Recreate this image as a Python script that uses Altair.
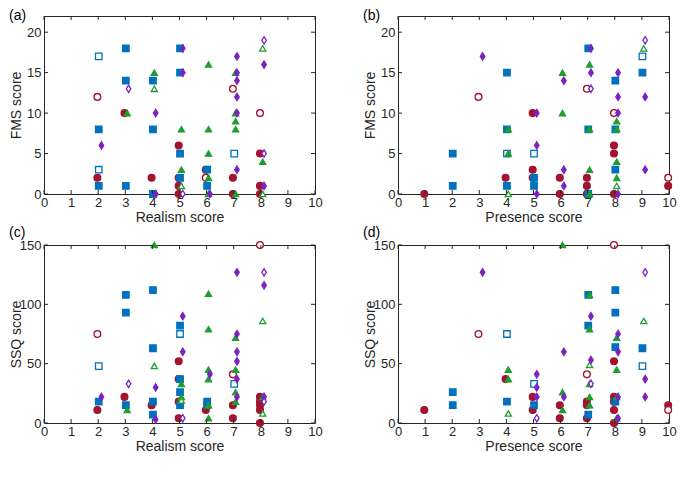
import altair as alt
import pandas as pd

# ---------------- data (x score, y score) ----------------
# Panel (a): FMS score vs Realism score
a_red = [(2,2),(3,10),(4,2),(5,6),(5,2),(5,1),(5,0),(6,3),(7,2),(7,0),(8,5),(8,1),(8,0)]
a_red_open = [(2,12),(7,13),(8,10),(6,2)]
a_blue = [(2,8),(2,1),(3,18),(3,14),(3,1),(4,14),(4,8),(4,0),(5,18),(5,15),(5,5),(5,2),(6,3),(6,1)]
a_blue_open = [(2,17),(2,3),(7,5)]
a_green = [(3,10),(4,15),(5,8),(5,3),(6,16),(6,8),(6,5),(6,2),(6,0),(7,15),(7,10),(7,9),(7,8),(7,0),(8,4)]
a_green_open = [(4,13),(8,18),(5,1),(8,0)]
a_purple = [(2,6),(4,10),(4,0),(5,18),(5,15),(6,0),(7,17),(7,15),(7,14),(7,12),(7,10),(7,3),(8,16),(8,1)]
a_purple_open = [(3,13),(8,19),(8,5),(5,0)]

# Panel (b): FMS score vs Presence score
b_red = [(1,0),(4,2),(5,10),(5,3),(5,2),(6,2),(6,0),(7,2),(7,1),(7,0),(8,6),(8,5),(8,0),(10,1)]
b_red_open = [(3,12),(7,13),(8,10),(10,2)]
b_blue = [(2,5),(2,1),(4,15),(4,8),(4,1),(5,2),(5,1),(7,18),(7,8),(7,0),(8,14),(8,8),(8,3),(9,15)]
b_blue_open = [(4,5),(5,5),(9,17)]
b_green = [(4,8),(4,5),(6,15),(6,10),(7,16),(7,8),(7,3),(7,0),(8,9),(8,8),(8,4),(8,2)]
b_green_open = [(4,0),(9,18),(8,1)]
b_purple = [(3,17),(5,10),(5,6),(5,0),(6,14),(6,3),(6,1),(7,18),(7,15),(8,15),(8,12),(8,10),(8,0),(9,12),(9,3)]
b_purple_open = [(9,19),(7,13)]

# Panel (c): SSQ score vs Realism score
c_red = [(2,11),(3,22),(4,15),(5,52),(5,37),(5,18),(5,4),(6,11),(7,15),(7,4),(8,22),(8,18),(8,15),(8,11),(8,0)]
c_red_open = [(2,75),(7,41),(8,150)]
c_blue = [(2,18),(3,108),(3,93),(3,15),(4,112),(4,63),(4,18),(4,7),(5,82),(5,37),(5,26),(5,15),(6,18),(6,15)]
c_blue_open = [(2,48),(5,75),(7,33)]
c_green = [(3,11),(4,150),(5,33),(5,22),(6,109),(6,79),(6,45),(6,37),(6,15),(6,4),(7,72),(7,45),(7,26),(7,18),(8,22)]
c_green_open = [(4,48),(8,86),(8,8),(5,19)]
c_purple = [(2,22),(4,30),(4,3),(5,90),(5,60),(6,41),(7,127),(7,75),(7,60),(7,52),(7,37),(7,22),(8,116),(8,22)]
c_purple_open = [(3,33),(8,127),(8,18),(5,4)]

# Panel (d): SSQ score vs Presence score
d_red = [(1,11),(4,37),(5,22),(5,11),(6,15),(6,4),(7,18),(7,15),(7,4),(8,52),(8,22),(8,18),(8,11),(8,0),(10,15)]
d_red_open = [(3,75),(7,41),(8,150),(10,11)]
d_blue = [(2,26),(2,15),(4,18),(5,15),(7,108),(7,82),(7,7),(8,112),(8,93),(8,64),(8,18),(9,63)]
d_blue_open = [(4,75),(5,33),(9,48)]
d_green = [(4,45),(4,37),(6,150),(6,26),(6,11),(7,108),(7,79),(7,33),(7,22),(7,15),(8,72),(8,45),(8,22),(8,4)]
d_green_open = [(4,8),(7,49),(9,86)]
d_purple = [(3,127),(5,41),(5,30),(5,22),(6,60),(6,22),(7,90),(7,53),(8,75),(8,60),(8,22),(8,4),(9,37),(9,22)]
d_purple_open = [(9,127),(7,33),(5,4)]

x_ticks = list(range(0, 11))
fms_ticks = [0, 5, 10, 15, 20]
ssq_ticks = [0, 50, 100, 150]

series = ["red", "blue", "green", "purple"]
colors = ["#A2142F", "#0072BD", "#1E9E2E", "#7B22C2"]
shapes = ["circle", "square", "triangle-up", "M0,-1.25L0.78,0L0,1.25L-0.78,0Z"]
sizes = [46, 34, 46, 44]

W = 271
AX = "#262626"
FONT = "Liberation Sans"


def frame(groups):
    rows = []
    for name, filled, opened in groups:
        for x, y in filled:
            rows.append({"x": x, "y": y, "s": name, "o": 0})
        for x, y in opened:
            rows.append({"x": x, "y": y, "s": name, "o": 1})
    return pd.DataFrame(rows)


def panel(df, label, xtitle, ytitle, ymax, yticks, title_offset, H):
    xs = alt.Scale(domain=[0, 10], nice=False, zero=False)
    ys = alt.Scale(domain=[0, ymax], nice=False, zero=False)
    xa = alt.Axis(values=x_ticks, title=xtitle, ticks=False, domain=False, grid=False, labelPadding=2,
                  titlePadding=1, labelFlush=False, labelOverlap=False)
    ya = alt.Axis(values=yticks, title=ytitle, ticks=False, domain=False, grid=False, labelPadding=3,
                  labelFlush=False, labelOverlap=False, titleX=-21, titleY=H / 2)
    cscale = alt.Scale(domain=series, range=colors)
    pts = alt.Chart(df).transform_calculate(
        xj="datum.x + (datum.s == 'red' ? -0.03 : datum.s == 'blue' ? 0.02 : datum.s == 'green' ? 0.07 : 0.12)"
    ).mark_point(opacity=1, fillOpacity=1, strokeWidth=1.3).encode(
        x=alt.X("xj:Q", scale=xs, axis=xa),
        y=alt.Y("y:Q", scale=ys, axis=ya),
        shape=alt.Shape("s:N", scale=alt.Scale(domain=series, range=shapes), legend=None),
        size=alt.Size("s:O", scale=alt.Scale(domain=series, range=sizes), legend=None),
        stroke=alt.Stroke("s:N", scale=cscale, legend=None),
        fill=alt.condition("datum.o == 1", alt.value("white"), alt.Fill("s:N", scale=cscale, legend=None)),
    )
    xt = pd.DataFrame({"t": x_ticks})
    yt = pd.DataFrame({"t": yticks})
    tb = alt.Chart(xt).mark_rule(color=AX, strokeWidth=1).encode(
        x=alt.X("t:Q", scale=xs, axis=xa), y=alt.value(H), y2=alt.value(H - 4))
    tt = alt.Chart(xt).mark_rule(color=AX, strokeWidth=1).encode(
        x=alt.X("t:Q", scale=xs, axis=xa), y=alt.value(0), y2=alt.value(4))
    tl = alt.Chart(yt).mark_rule(color=AX, strokeWidth=1).encode(
        y=alt.Y("t:Q", scale=ys, axis=ya), x=alt.value(0), x2=alt.value(4))
    tr = alt.Chart(yt).mark_rule(color=AX, strokeWidth=1).encode(
        y=alt.Y("t:Q", scale=ys, axis=ya), x=alt.value(W), x2=alt.value(W - 4))
    return alt.layer(pts, tb, tt, tl, tr).properties(
        width=W, height=H,
        title=alt.TitleParams(text=label, anchor="start", frame="group", dx=-35, fontSize=14,
                              fontWeight="normal", font=FONT, color="black", offset=title_offset),
    )


df_a = frame([("red", a_red, a_red_open), ("blue", a_blue, a_blue_open),
              ("green", a_green, a_green_open), ("purple", a_purple, a_purple_open)])
df_b = frame([("red", b_red, b_red_open), ("blue", b_blue, b_blue_open),
              ("green", b_green, b_green_open), ("purple", b_purple, b_purple_open)])
df_c = frame([("red", c_red, c_red_open), ("blue", c_blue, c_blue_open),
              ("green", c_green, c_green_open), ("purple", c_purple, c_purple_open)])
df_d = frame([("red", d_red, d_red_open), ("blue", d_blue, d_blue_open),
              ("green", d_green, d_green_open), ("purple", d_purple, d_purple_open)])

pa = panel(df_a, "(a)", "Realism score", "FMS score", 22, fms_ticks, -7, 178)
pb = panel(df_b, "(b)", "Presence score", "FMS score", 22, fms_ticks, -7, 178)
pc = panel(df_c, "(c)", "Realism score", "SSQ score", 150, ssq_ticks, -1, 178)
pd_ = panel(df_d, "(d)", "Presence score", "SSQ score", 150, ssq_ticks, -1, 178)

row1 = alt.hconcat(pa, pb, spacing=39)
row2 = alt.hconcat(pc, pd_, spacing=39)
chart = alt.vconcat(row1, row2, spacing=0).properties(
    padding={"left": 0, "top": 0, "right": 0, "bottom": 0}
).configure_view(stroke=AX, strokeWidth=1).configure_axis(
    labelFont=FONT, titleFont=FONT, labelFontSize=13, titleFontSize=14, labelColor="#262626",
    titleColor="#262626", titleFontWeight="normal"
)

chart.save("out.html", embed_options={"renderer": "svg", "actions": False})
